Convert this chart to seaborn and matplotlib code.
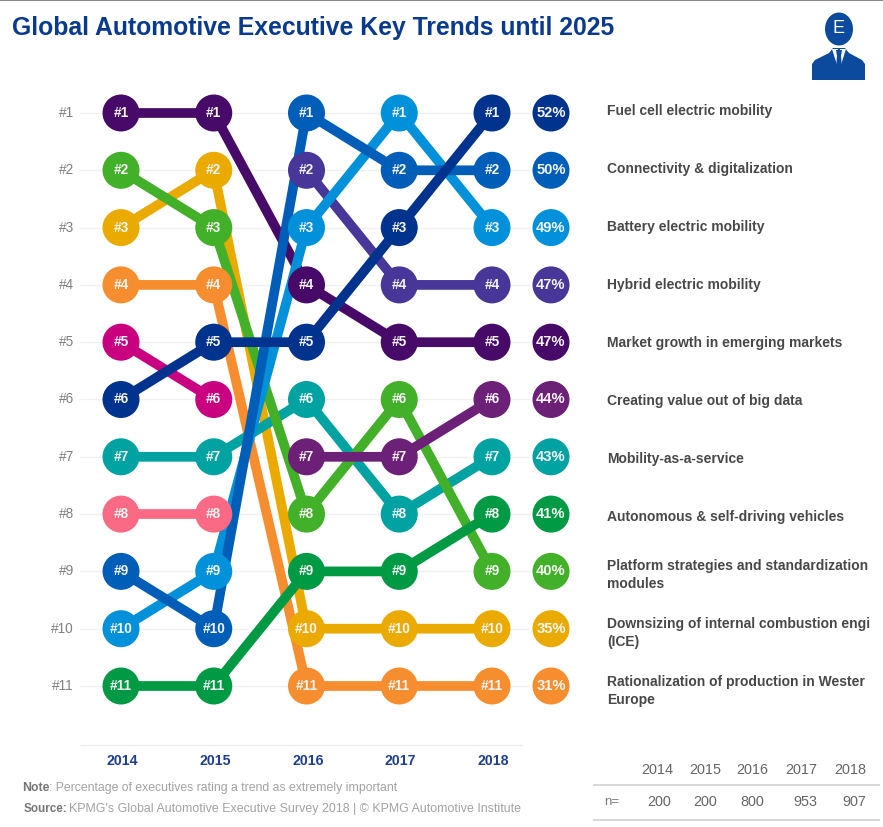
import matplotlib
matplotlib.use("Agg")
import matplotlib.pyplot as plt
from matplotlib.patches import Ellipse, Polygon
import seaborn as sns
import pandas as pd

years = [2014, 2015, 2016, 2017, 2018]
sample_n = [200, 200, 800, 953, 907]

trend_labels = [
    "Fuel cell electric mobility",
    "Connectivity & digitalization",
    "Battery electric mobility",
    "Hybrid electric mobility",
    "Market growth in emerging markets",
    "Creating value out of big data",
    "Mobility-as-a-service",
    "Autonomous & self-driving vehicles",
    "Platform strategies and standardization\nmodules",
    "Downsizing of internal combustion engi\n(ICE)",
    "Rationalization of production in Wester\nEurope",
]
shares_2018 = [52, 50, 49, 47, 47, 44, 43, 41, 40, 35, 31]

fuel_cell = [6, 5, 5, 3, 1]
connectivity = [9, 10, 1, 2, 2]
battery = [10, 9, 3, 1, 3]
hybrid = [None, None, 2, 4, 4]
market_growth = [1, 1, 4, 5, 5]
big_data = [None, None, 7, 7, 6]
maas = [7, 7, 6, 8, 7]
autonomous = [11, 11, 9, 9, 8]
platform = [2, 3, 8, 6, 9]
downsizing = [3, 2, 10, 10, 10]
rationalization = [4, 4, 11, 11, 11]
dropped_a = [5, 6, None, None, None]
dropped_b = [8, 8, None, None, None]

series = {
    "dropped_a": (dropped_a, "#C9007F"),
    "dropped_b": (dropped_b, "#FB6A85"),
    "rationalization": (rationalization, "#F68D2E"),
    "downsizing": (downsizing, "#EAAA00"),
    "maas": (maas, "#00A3A1"),
    "platform": (platform, "#43B02A"),
    "autonomous": (autonomous, "#009A44"),
    "big_data": (big_data, "#6D2077"),
    "hybrid": (hybrid, "#483698"),
    "market_growth": (market_growth, "#470A68"),
    "battery": (battery, "#0091DA"),
    "connectivity": (connectivity, "#005EB8"),
    "fuel_cell": (fuel_cell, "#00338D"),
}
palette = {k: v[1] for k, v in series.items()}
final_order = ["fuel_cell", "connectivity", "battery", "hybrid", "market_growth", "big_data",
               "maas", "autonomous", "platform", "downsizing", "rationalization"]

rows = []
for name, (ranks, _) in series.items():
    for i, r in enumerate(ranks):
        if r is not None:
            rows.append({"trend": name, "pos": i, "rank": r})
df = pd.DataFrame(rows)

W, H = 883, 827
sns.set_theme(style="white")
plt.rcParams["font.family"] = ["Liberation Sans", "DejaVu Sans"]
fig = plt.figure(figsize=(W / 100, H / 100), dpi=100)
ax = fig.add_axes([0, 0, 1, 1])
sx, sy = 92.75, 57.3
x0, y0 = 121, 113
px = lambda v: (v - x0) / sx
py = lambda v: 1 + (v - y0) / sy

ax.hlines(range(1, 12), px(80), px(530), color="#F1F1F1", lw=1, zorder=1)
ax.hlines(py(745), px(80), px(522), color="#EDEDED", lw=1, zorder=1)
ax.hlines(py(0.5), px(0), px(W), color="#8A8A8A", lw=1.5, zorder=1)

sns.lineplot(data=df, x="pos", y="rank", hue="trend", hue_order=list(series), palette=palette,
             estimator=None, sort=False, lw=7.0, legend=False, ax=ax, zorder=2,
             solid_capstyle="round")
sns.scatterplot(data=df, x="pos", y="rank", hue="trend", palette=palette, s=710,
                linewidth=0, legend=False, ax=ax, zorder=3)

for row in df.itertuples():
    ax.text(row.pos, row.rank, f"#{row.rank}", color="#F4F4F4", fontsize=9.8, fontweight="bold",
            ha="center", va="center", zorder=4)

pct_df = pd.DataFrame({"trend": final_order, "x": px(551), "rank": range(1, 12)})
sns.scatterplot(data=pct_df, x="x", y="rank", hue="trend", palette=palette, s=710,
                linewidth=0, legend=False, ax=ax, zorder=3)

ax.set_xlim(px(0), px(W))
ax.set_ylim(py(H), py(0))
ax.axis("off")

for i, (share, label) in enumerate(zip(shares_2018, trend_labels), start=1):
    ax.text(px(551), i, f"{share}%", color="#F4F4F4", fontsize=10.6, fontweight="bold",
            ha="center", va="center", zorder=4)
    ax.text(px(607), py(111 + 58 * (i - 1)), label, color="#484848", fontsize=10.0, fontweight="bold",
            ha="left", va="center", linespacing=1.3)
    ax.text(px(74), i, f"#{i}", color="#808080", fontsize=9.8, ha="right", va="center")

for i, y in enumerate(years):
    ax.text(i + 0.015, py(761), str(y), color="#1F3F8F", fontsize=10.2, fontweight="bold",
            ha="center", va="center")

ax.text(px(12), py(28), "Global Automotive Executive Key Trends until 2025", color="#0A3A8E",
        fontsize=17.8, fontweight="bold", ha="left", va="center")

ax.text(px(22), py(788), "Note", color="#777777", fontsize=8.8, fontweight="bold", va="center")
ax.text(px(49), py(788), ": Percentage of executives rating a trend as extremely important",
        color="#A3A3A3", fontsize=8.85, va="center")
ax.text(px(24), py(809), "Source:", color="#777777", fontsize=8.4, fontweight="bold", va="center")
ax.text(px(69), py(809), "KPMG's Global Automotive Executive Survey 2018 | © KPMG Automotive Institute",
        color="#A3A3A3", fontsize=8.95, va="center")

head_x = [657, 705, 752, 801, 850]
value_x = [659, 705, 752, 805, 854]
for hx, vx, y, n in zip(head_x, value_x, years, sample_n):
    ax.text(px(hx), py(770), str(y), color="#666666", fontsize=10.4, ha="center", va="center")
    ax.text(px(vx), py(802), str(n), color="#666666", fontsize=10.4, ha="center", va="center")
ax.text(px(604), py(802), "n=", color="#777777", fontsize=9.5, ha="left", va="center")
ax.hlines([py(785), py(820)], px(593), px(880), color="#D2D2D2", lw=1.2)

# executive icon
icon = "#0B4A9C"
ax.add_patch(Ellipse((px(839), py(29)), 28 / sx, 33 / sy, color=icon, lw=0, zorder=3))
ax.text(px(839), py(29), "E", color="white", fontsize=13, ha="center", va="center", zorder=4)
poly = lambda pts, c: ax.add_patch(Polygon([(px(a), py(b)) for a, b in pts], color=c, lw=0, zorder=3))
poly([(812, 80), (812, 64), (815, 60), (829, 53), (833, 48), (845, 48), (849, 53), (862, 60),
      (865, 64), (865, 80)], icon)
poly([(832, 49), (838, 49), (838, 68)], "white")
poly([(840, 49), (846, 49), (840, 68)], "white")
poly([(836, 50), (842, 50), (841, 56), (842, 68), (839, 72), (836, 68), (837, 56)], icon)

fig.savefig("out.png", dpi=100)
